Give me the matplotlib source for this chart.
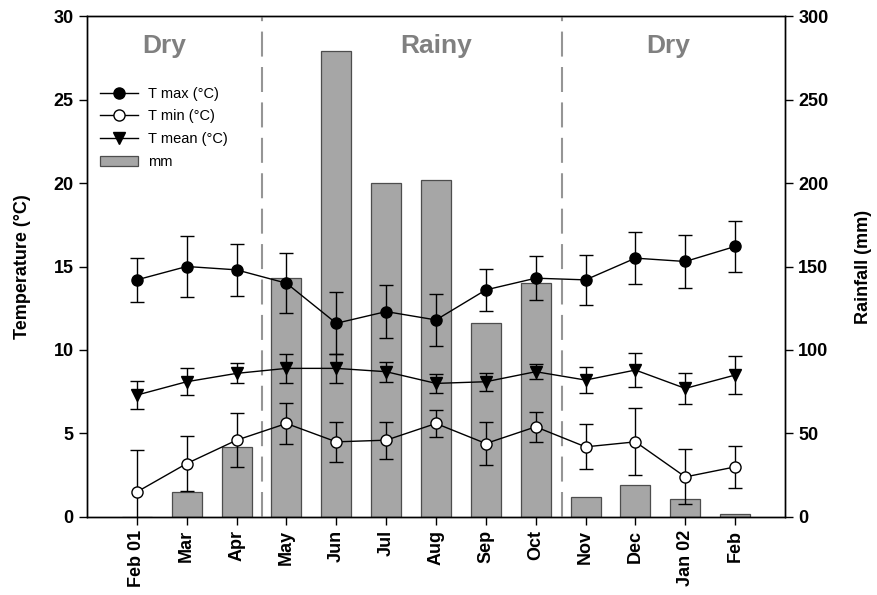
import matplotlib
matplotlib.use("Agg")
import matplotlib.pyplot as plt
from matplotlib.lines import Line2D
import numpy as np

plt.rcParams['font.family'] = ['Liberation Sans', 'DejaVu Sans']

months = ['Feb 01', 'Mar', 'Apr', 'May', 'Jun', 'Jul', 'Aug',
          'Sep', 'Oct', 'Nov', 'Dec', 'Jan 02', 'Feb']

t_max = [14.2, 15.0, 14.8, 14.0, 11.6, 12.3, 11.8, 13.6, 14.3, 14.2, 15.5, 15.3, 16.2]
t_max_err = [1.3, 1.85, 1.55, 1.8, 1.85, 1.6, 1.55, 1.25, 1.3, 1.5, 1.55, 1.6, 1.5]

t_min = [1.5, 3.2, 4.6, 5.6, 4.5, 4.6, 5.6, 4.4, 5.4, 4.2, 4.5, 2.4, 3.0]
t_min_err = [2.5, 1.65, 1.6, 1.25, 1.2, 1.1, 0.8, 1.3, 0.9, 1.35, 2.0, 1.65, 1.25]

t_mean = [7.3, 8.1, 8.6, 8.9, 8.9, 8.7, 8.0, 8.1, 8.7, 8.2, 8.8, 7.7, 8.5]
t_mean_err = [0.85, 0.8, 0.6, 0.85, 0.85, 0.6, 0.55, 0.55, 0.45, 0.8, 1.0, 0.95, 1.15]

rain_mm = [0, 15, 42, 143, 279, 200, 202, 116, 140, 12, 19, 11, 1.5]

seasons = ['Dry', 'Rainy', 'Dry']

x = np.arange(len(months))

fig = plt.figure(figsize=(8.77, 5.95), dpi=100)
ax = fig.add_axes([0.0992, 0.1311, 0.7959, 0.842])
ax2 = ax.twinx()

ax2.bar(x, rain_mm, width=0.6, color='#a6a6a6', edgecolor='#4d4d4d',
        linewidth=0.9)
ax2.set_ylim(0, 300)
ax2.set_yticks([0, 50, 100, 150, 200, 250, 300])
ax2.set_ylabel('Rainfall (mm)', fontsize=13, fontweight='bold', labelpad=19)

ax.set_zorder(ax2.get_zorder() + 1)
ax.patch.set_visible(False)

ekw = dict(color='black', linewidth=1.0, elinewidth=1.0, capsize=4.7, capthick=1.0,
           markeredgecolor='black', markeredgewidth=1.0)
ax.errorbar(x, t_max, yerr=t_max_err, fmt='-o', markersize=8,
            markerfacecolor='black', **ekw)
ax.errorbar(x, t_min, yerr=t_min_err, fmt='-o', markersize=8,
            markerfacecolor='white', **ekw)
ax.errorbar(x, t_mean, yerr=t_mean_err, fmt='-v', markersize=8,
            markerfacecolor='black', **ekw)

for xs in [2.52, 8.52]:
    ax.axvline(xs, color='#959595', linewidth=1.5, dashes=(12, 5))

ax.set_xlim(-1, 13)
ax2.set_xlim(-1, 13)
ax.set_ylim(0, 30)
ax.set_yticks([0, 5, 10, 15, 20, 25, 30])
ax.set_xticks(x)
ax.set_xticklabels(months, rotation=90)
ax.set_ylabel('Temperature (°C)', fontsize=13, fontweight='bold', labelpad=16)

for a in (ax, ax2):
    a.tick_params(direction='out', length=6, width=1, labelsize=13)
    for lab in a.get_xticklabels() + a.get_yticklabels():
        lab.set_fontweight('bold')
    for s in a.spines.values():
        s.set_linewidth(1.0)

for name, xp in zip(seasons, [0.55, 6.0, 10.65]):
    ax.text(xp, 28.2, name, ha='center', va='center', fontsize=19,
            fontweight='bold', color='#808080')

handles = [
    Line2D([], [], color='black', lw=1.0, marker='o', markersize=8,
           markerfacecolor='black', markeredgecolor='black'),
    Line2D([], [], color='black', lw=1.0, marker='o', markersize=8,
           markerfacecolor='white', markeredgecolor='black'),
    Line2D([], [], color='black', lw=1.0, marker='v', markersize=8,
           markerfacecolor='black', markeredgecolor='black'),
    ax2.patches[0],
]
labels = ['T max (°C)', 'T min (°C)', 'T mean (°C)', 'mm']
ax.legend(handles, labels, loc='upper left', bbox_to_anchor=(0.0, 0.885),
          frameon=False, fontsize=10.5, handlelength=2.6, labelspacing=0.6,
          borderaxespad=0.5, handletextpad=0.7)

fig.savefig('out.png', dpi=100)
